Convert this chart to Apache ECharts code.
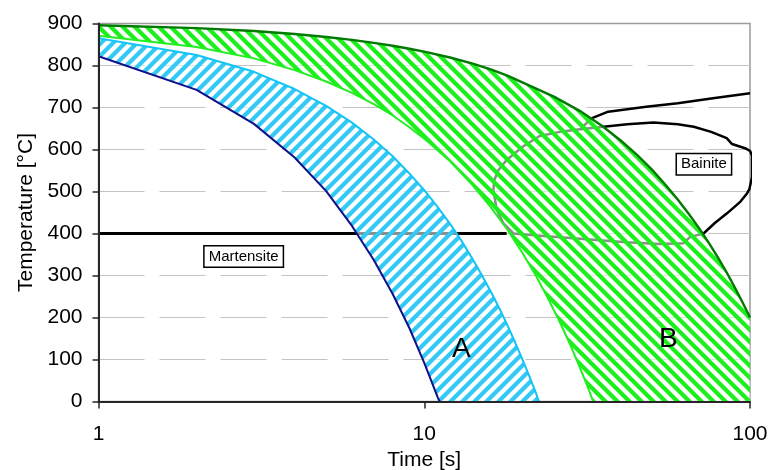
<!DOCTYPE html>
<html><head><meta charset="utf-8">
<script src="https://cdn.jsdelivr.net/npm/echarts@6/dist/echarts.min.js"></script>
<style>html,body{margin:0;padding:0;background:#fff}#c{width:770px;height:470px}</style>
</head><body><div id="c"></div>
<script>
// ---- data (time in s, temperature in °C) ----
const xTickLabels = ['1', '10', '100'];
const yTickValues = [0, 100, 200, 300, 400, 500, 600, 700, 800, 900];

const aLowerT = [1, 2, 3, 4, 5, 6, 7, 8, 9, 10, 11, 11.15];
const aLowerV = [822, 742, 661, 581, 501, 418, 337, 256, 175, 92, 10, 0];

const aUpperT = [1, 2, 3, 4, 5, 6, 7, 8, 9, 10, 11, 12, 13, 14, 15, 16, 17, 18, 19, 20, 21, 22, 22.5];
const aUpperV = [865, 825, 785, 744, 704, 664, 624, 584, 543, 503, 463, 423, 383, 342, 302, 262, 222, 182, 141, 101, 61, 21, 0];

const bLowerT = [1, 2, 3, 4, 5, 6, 7, 8, 9, 10, 12, 14, 16, 18, 20, 22, 24, 26, 28, 30, 32, 33];
const bLowerV = [871, 844, 817, 789, 762, 735, 708, 681, 653, 626, 572, 517, 463, 409, 354, 300, 245, 191, 137, 82, 28, 0];

const bUpperT = [1, 2, 3, 4, 5, 6, 7, 8, 9, 10, 12, 14, 16, 18, 20, 25, 30, 35, 40, 45, 50, 55, 60, 65, 70, 75, 80, 85, 90, 95, 100];
const bUpperV = [896, 889, 882, 875, 868, 861, 854, 847, 840, 833, 819, 805, 791, 776, 760, 726, 692, 657, 622, 587, 552, 516, 481, 446, 411, 376, 341, 306, 270, 235, 200];
const bCornerT = [100];
const bCornerV = [0];

const martensiteT = [1, 17.9];
const martensiteV = [400, 400];

const bainiteLoopT = [30.1, 35.5, 42, 50.5, 60, 67.2, 76, 84.8, 88.1, 96.5, 100, 101.5, 101.5, 99.5, 98, 93.5, 85, 78, 72, 65.5, 62.5, 52.8, 41.8, 28, 22.2, 18.8, 17.5, 16.7, 16.3, 16.4, 16.9, 17.9, 20.1, 22.6, 26.1, 30.1];
const bainiteLoopV = [648, 654, 660, 664, 660, 654, 642, 627, 613, 603, 597, 585, 535, 505, 496, 476, 448, 425, 400, 392, 377, 375, 379, 389, 395, 400, 424, 456, 503, 527, 551, 575, 607, 632, 642, 648];

const bainiteUpperT = [30.1, 32.6, 36.7, 48, 60, 77, 100];
const bainiteUpperV = [648, 674, 690, 702, 710, 722, 734];

// ---- helpers ----
const zip = (ts, vs) => ts.map((t, i) => [t, vs[i]]);
const FONT = 'Arial, "Liberation Sans", sans-serif';

function hatch(color, dir) {
  const c = document.createElement('canvas');
  c.width = 12; c.height = 12;
  const g = c.getContext('2d');
  g.fillStyle = 'rgba(255,255,255,0.55)';
  g.fillRect(0, 0, 12, 12);
  g.strokeStyle = color;
  g.lineWidth = 4.2;
  for (const o of [-12, 0, 12]) {
    g.beginPath();
    if (dir === '/') { g.moveTo(o - 2, 14); g.lineTo(o + 14, -2); }
    else { g.moveTo(o - 2, -2); g.lineTo(o + 14, 14); }
    g.stroke();
  }
  return c;
}
const blueHatch = hatch('#33c9f5', '/');
const greenHatch = hatch('#1def1d', '\\');

const bandA = zip(aUpperT, aUpperV).concat(zip(aLowerT, aLowerV).reverse());
const bandB = zip(bUpperT, bUpperV).concat(zip(bCornerT, bCornerV), zip(bLowerT, bLowerV).reverse());

function bandSeries(poly, pattern) {
  return {
    type: 'custom', z: 2, silent: true, clip: true,
    data: [[1, 0]],
    encode: { x: 0, y: 1 },
    renderItem: function (params, api) {
      return {
        type: 'polygon',
        shape: { points: poly.map(p => api.coord(p)) },
        style: { fill: { image: pattern, repeat: 'repeat' }, stroke: null }
      };
    }
  };
}
function lineSeries(data, color, width, z) {
  return {
    type: 'line', data: data, z: z, symbol: 'none', showSymbol: false, silent: true,
    smooth: false, animation: false, clip: true,
    lineStyle: { color: color, width: width }
  };
}
const boxLabel = {
  show: true, position: 'inside', color: '#000', fontFamily: FONT, fontSize: 15,
  backgroundColor: '#fff', borderColor: '#000', borderWidth: 1.5, padding: [3, 4, 2, 4]
};
const bigLabel = { show: true, position: 'inside', color: '#000', fontFamily: FONT, fontSize: 28 };

const chart = echarts.init(document.getElementById('c'), null, { renderer: 'canvas' });
const topLine = lineSeries(zip(bUpperT, bUpperV), '#007a00', 2.4, 4);
topLine.markPoint = {
  symbol: 'rect', symbolSize: 1, silent: true, animation: false,
  itemStyle: { color: 'rgba(0,0,0,0)' },
  data: [
    { coord: [2.79, 345], value: 'Martensite', label: Object.assign({ formatter: 'Martensite' }, boxLabel) },
    { coord: [72.2, 565], value: 'Bainite', label: Object.assign({ formatter: 'Bainite' }, boxLabel) },
    { coord: [13.0, 124], value: 'A', label: Object.assign({ formatter: 'A' }, bigLabel) },
    { coord: [56.1, 147], value: 'B', label: Object.assign({ formatter: 'B' }, bigLabel) }
  ]
};

chart.setOption({
  animation: false,
  backgroundColor: '#fff',
  grid: {
    left: 98.5, right: 20, top: 23.5, bottom: 68.5,
    containLabel: false, outerBoundsMode: 'none',
    show: true, borderColor: '#9a9a9a', borderWidth: 1.5, backgroundColor: '#fff'
  },
  xAxis: {
    type: 'log', logBase: 10, min: 1, max: 100, z: 10,
    name: 'Time [s]', nameLocation: 'middle', nameGap: 48,
    nameTextStyle: { fontFamily: FONT, fontSize: 21, color: '#000' },
    axisLine: { onZero: false, lineStyle: { color: '#262626', width: 2 } },
    axisTick: { show: true, length: 7, lineStyle: { color: '#262626', width: 1.5 } },
    axisLabel: {
      margin: 22, fontFamily: FONT, fontSize: 21, color: '#000',
      formatter: v => { const s = String(Math.round(v)); return xTickLabels.includes(s) ? s : ''; }
    },
    splitLine: { show: false },
    minorTick: { show: false }
  },
  yAxis: [{
    type: 'value', min: 0, max: 900, interval: 100, z: 10,
    name: 'Temperature [°C]', nameLocation: 'middle', nameGap: 62, nameRotate: 90,
    nameTextStyle: { fontFamily: FONT, fontSize: 21, color: '#000' },
    axisLine: { show: true, onZero: false, lineStyle: { color: '#262626', width: 2 } },
    axisTick: { show: true, length: 6, lineStyle: { color: '#262626', width: 1.5 } },
    axisLabel: {
      margin: 16, fontFamily: FONT, fontSize: 21, color: '#000',
      formatter: v => yTickValues.includes(v) ? String(v) : ''
    },
    splitLine: { show: false }
  }, {
    type: 'value', min: 0, max: 900, interval: 100, z: 0, position: 'left',
    axisLine: { show: false }, axisTick: { show: false }, axisLabel: { show: false },
    splitLine: { show: true, showMinLine: false, showMaxLine: false,
      lineStyle: { color: '#c4c4c4', width: 1, type: [46, 15] } }
  }],
  series: [
    lineSeries(zip(martensiteT, martensiteV), '#000', 3, 1),
    lineSeries(zip(bainiteLoopT, bainiteLoopV), '#000', 2.5, 1),
    lineSeries(zip(bainiteUpperT, bainiteUpperV), '#000', 2.5, 1),
    bandSeries(bandA, blueHatch),
    bandSeries(bandB, greenHatch),
    lineSeries(zip(aLowerT, aLowerV), '#10108a', 2, 3),
    lineSeries(zip(aUpperT, aUpperV), '#14c4f5', 2, 3),
    lineSeries(zip(bLowerT, bLowerV), '#22ee22', 2, 3),
    topLine
  ]
});
</script>
</body></html>
